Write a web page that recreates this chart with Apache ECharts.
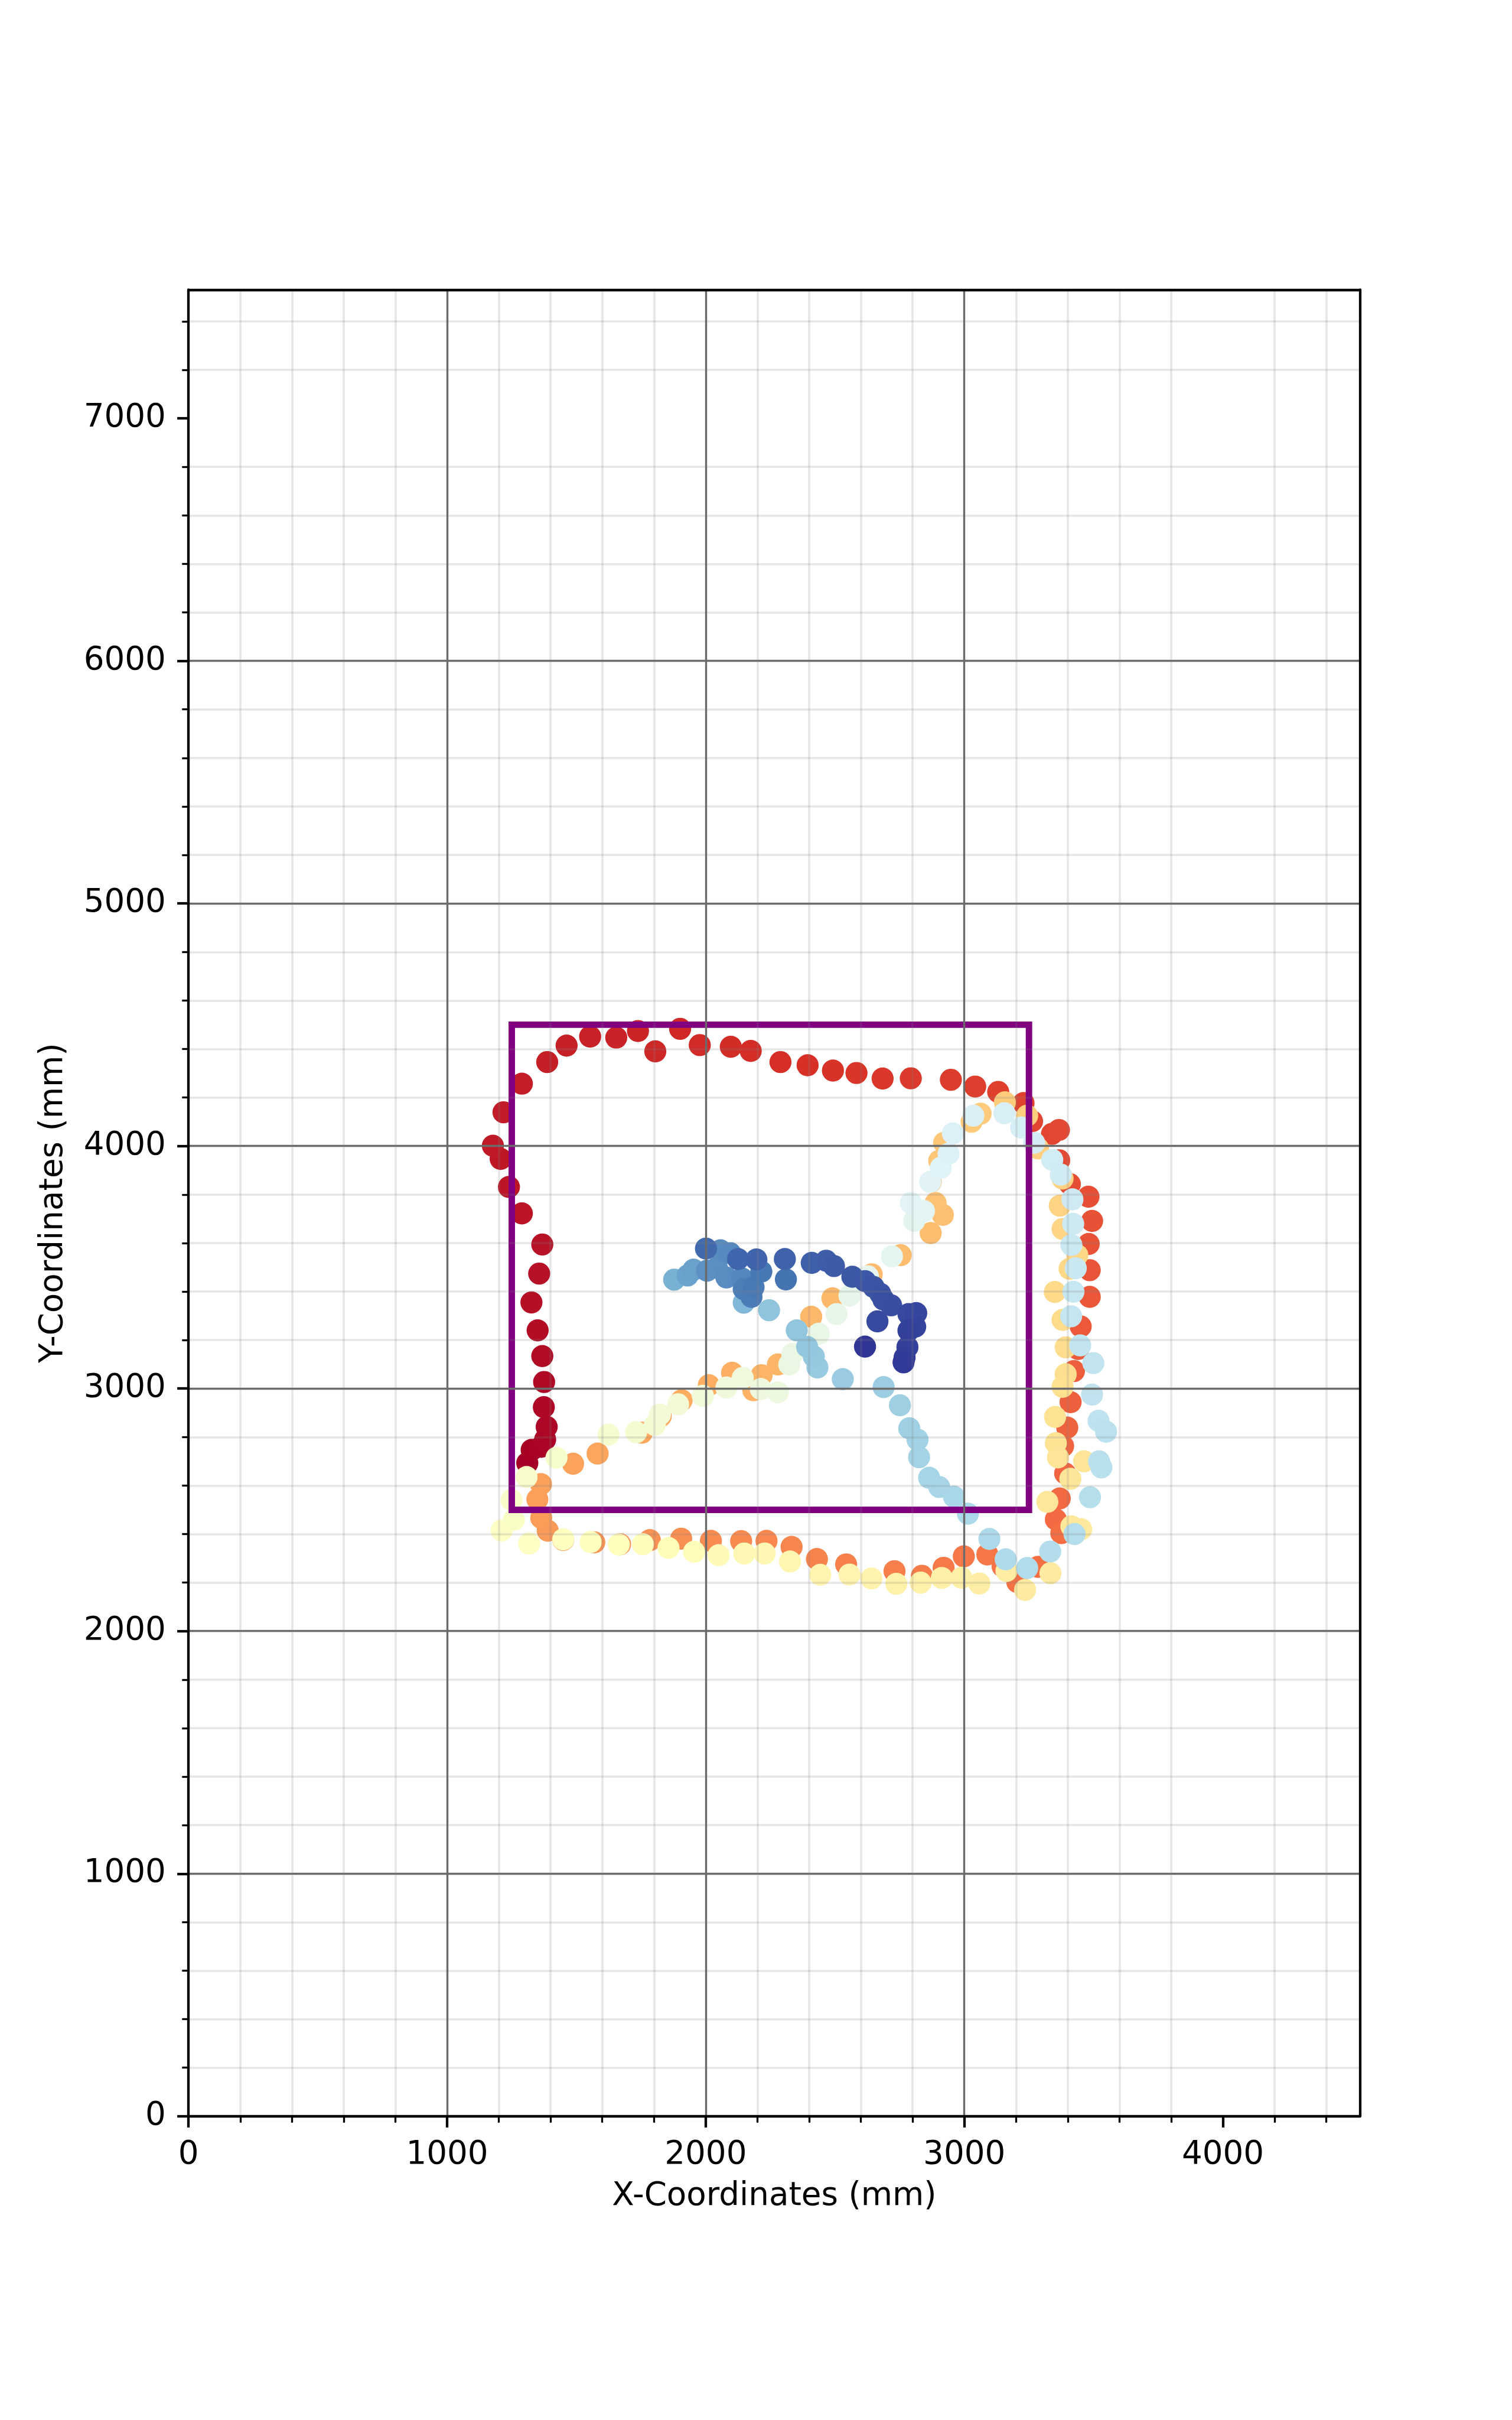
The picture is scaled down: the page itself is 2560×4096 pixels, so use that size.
<!DOCTYPE html>
<html>
<head>
<meta charset="utf-8">
<script src="https://cdn.jsdelivr.net/npm/echarts@6/dist/echarts.min.js"></script>
<style>html,body{margin:0;padding:0;background:#fff}#chart{width:2560px;height:4096px}</style>
</head>
<body>
<div id="chart"></div>
<script>
// ---- Trajectory data (mm), in time order ----
// loop 1 (red): start bottom-left, up the left side, along the top, down the right, back along the bottom
const loop1X = [1310,1327,1364,1379,1385,1374,1375,1368,1350,1326,
                1356,1368,1289,1239,1207,1177,1218,1289,1387,1462,
                1553,1654,1738,1805,1901,1977,2097,2174,2289,2394,
                2492,2583,2684,2793,2948,3042,3131,3229,3262,3339,
                3366,3367,3408,3480,3494,3481,3485,3485,3450,3440,
                3424,3411,3398,3382,3390,3369,3354,3375,3285,3205,
                3148,3089,2998,2920,2836,2730,2543,2430,2332,2235,
                2137,2020,1905,1784,1669,1569,1449,1389,1364,1349,1363];
const loop1Y = [2693,2747,2760,2790,2842,2923,3027,3134,3240,3355,
                3474,3594,3722,3831,3947,4001,4139,4257,4346,4414,
                4451,4447,4474,4390,4483,4416,4409,4392,4346,4333,
                4311,4301,4278,4279,4273,4245,4223,4177,4102,4050,
                4066,3941,3843,3791,3691,3596,3488,3378,3256,3163,
                3072,2944,2839,2763,2650,2547,2460,2404,2265,2202,
                2267,2316,2308,2261,2228,2247,2275,2297,2347,2372,
                2371,2372,2381,2375,2358,2366,2376,2414,2467,2543,2606];
// loop 2 (orange/yellow): diagonal up, right side down, bottom row back left
const loop2X = [1487,1582,1753,1826,1907,2012,2102,2184,2216,2279,
                2408,2490,2642,2754,2870,2917,2889,2870,2903,2922,
                3028,3063,3157,3243,3285,3380,3369,3380,3437,3407,
                3350,3380,3392,3392,3380,3351,3354,3362,3463,3410,
                3321,3414,3452,3333,3235,3163,3058,2989,2913,2831,
                2737,2641,2556,2443,2326,2228,2149,2050,1955,1856,
                1757,1664,1555,1449,1317,1211,1258,1249,1307,1423];
const loop2Y = [2690,2732,2818,2886,2952,3014,3065,2993,3055,3099,
                3296,3372,3471,3550,3641,3716,3765,3852,3939,4013,
                4100,4133,4180,4125,3990,3866,3754,3658,3550,3494,
                3398,3283,3170,3059,3007,2883,2775,2716,2700,2628,
                2533,2432,2420,2239,2170,2248,2196,2220,2219,2200,
                2195,2217,2233,2232,2287,2320,2320,2313,2327,2343,
                2358,2357,2367,2378,2361,2415,2459,2541,2635,2715];
// loop 3 (pale green / light blue): diagonal up, right side down, back up-left to the centre
const loop3X = [1624,1731,1803,1823,1893,1989,2080,2143,2213,2279,
                2323,2335,2437,2506,2556,2627,2720,2806,2844,2793,
                2868,2909,2939,2956,3035,3155,3220,3270,3340,3373,
                3418,3421,3414,3431,3422,3413,3448,3499,3494,3519,
                3548,3521,3530,3486,3426,3332,3243,3160,3097,3014,
                2960,2903,2864,2825,2819,2787,2751,2688,2530,2432,
                2418,2392,2352,2245];
const loop3Y = [2810,2820,2850,2893,2935,2970,3004,3044,2998,2984,
                3099,3143,3226,3307,3383,3463,3545,3691,3732,3765,
                3852,3910,3968,4052,4125,4135,4076,4013,3943,3882,
                3780,3679,3592,3496,3399,3298,3178,3105,2975,2867,
                2822,2700,2675,2552,2400,2328,2260,2296,2380,2484,
                2554,2594,2632,2717,2789,2836,2931,3006,3039,3087,
                3132,3172,3240,3323];
// tail (blue): central cluster and final dark-blue stretch
const tailX = [2147,1878,1930,1953,2005,2043,2080,2057,2095,2140,
               2147,2177,2185,2215,2310,2001,2125,2196,2306,2410,
               2466,2496,2567,2616,2649,2675,2687,2717,2664,2784,
               2814,2810,2784,2780,2769,2765,2616];
const tailY = [3354,3449,3466,3490,3486,3498,3458,3570,3558,3454,
               3410,3378,3418,3482,3450,3577,3534,3532,3534,3518,
               3527,3505,3461,3443,3419,3391,3367,3343,3277,3307,
               3311,3255,3239,3171,3128,3108,3173];
const tailSteps = [222,226,234,235,243,244,245,246,247,248,
                   253,254,255,256,258,263,264,265,266,267,
                   268,269,270,271,272,273,274,275,277,278,
                   279,280,281,282,283,284,286];
const lastStep = 286;

// region of interest rectangle (mm)
const roiX = [1250, 3250, 3250, 1250, 1250];
const roiY = [2500, 2500, 4500, 4500, 2500];

// axes
const xMin = 0, xMax = 4530, yMin = 0, yMax = 7530;
const xTicks = [0, 1000, 2000, 3000, 4000];
const yTicks = [0, 1000, 2000, 3000, 4000, 5000, 6000, 7000];
const xTitle = 'X-Coordinates (mm)';
const yTitle = 'Y-Coordinates (mm)';

// RdYlBu colormap stops
const rdylbu = ['#a50026','#d73027','#f46d43','#fdae61','#fee090','#ffffbf',
                '#e0f3f8','#abd9e9','#74add1','#4575b4','#313695'];

// ---- build series data ----
const pts = [];
let step = 0;
[[loop1X, loop1Y], [loop2X, loop2Y], [loop3X, loop3Y]].forEach(([xs, ys]) => {
  for (let i = 0; i < xs.length; i++) { pts.push([xs[i], ys[i], step]); step++; }
});
for (let i = 0; i < tailX.length; i++) pts.push([tailX[i], tailY[i], tailSteps[i]]);
const roi = roiX.map((x, i) => [x, roiY[i]]);

const S = 0.984;
const FONT = 'DejaVu Sans';
const FS = 55.6 * S;

const chart = echarts.init(document.getElementById('chart'), null, {renderer: 'canvas'});

function mainAxis(isX) {
  const ticks = isX ? xTicks : yTicks;
  return {
    type: 'value',
    min: isX ? xMin : yMin,
    max: isX ? xMax : yMax,
    interval: 1000,
    position: isX ? 'bottom' : 'left',
    z: 5,
    axisLine: {show: true, onZero: false, lineStyle: {color: '#000', width: 4.3}},
    axisTick: {show: true, inside: false, length: 19.1, customValues: ticks,
               lineStyle: {color: '#000', width: 4.3}},
    minorTick: {show: true, splitNumber: 5, length: 10.9, lineStyle: {color: '#000', width: 3.3}},
    axisLabel: {show: true, margin: 38.3, fontSize: FS, fontFamily: FONT, color: '#000',
                customValues: ticks, formatter: v => String(v)},
    splitLine: {show: true, showMinLine: false, showMaxLine: false,
                lineStyle: {color: '#6b6b6b', width: 3.4}},
    minorSplitLine: {show: true, lineStyle: {color: 'rgba(128,128,128,0.2)', width: 3.6}},
    name: isX ? xTitle : yTitle,
    nameLocation: 'middle',
    nameGap: isX ? 136 : 228,
    nameTextStyle: {fontSize: FS, fontFamily: FONT, color: '#000', verticalAlign: 'middle'}
  };
}
function frameAxis(isX) {
  return {
    type: 'value',
    min: isX ? xMin : yMin,
    max: isX ? xMax : yMax,
    position: isX ? 'top' : 'right',
    z: 6,
    axisLine: {show: true, onZero: false, lineStyle: {color: '#000', width: 4.3}},
    axisTick: {show: false}, axisLabel: {show: false},
    splitLine: {show: false}, minorTick: {show: false}, minorSplitLine: {show: false}
  };
}

chart.setOption({
  animation: false,
  backgroundColor: '#fff',
  grid: {left: 319.2, right: 257.4, top: 490.5, bottom: 514.2,
         containLabel: false, outerBoundsMode: 'none', show: false},
  visualMap: {type: 'continuous', show: false, seriesIndex: 0, dimension: 2,
              min: 0, max: lastStep, inRange: {color: rdylbu}},
  xAxis: [mainAxis(true), frameAxis(true)],
  yAxis: [mainAxis(false), frameAxis(false)],
  series: [
    {type: 'scatter', data: pts, symbol: 'circle', symbolSize: 37.4, z: 2, silent: true,
     itemStyle: {opacity: 1}, xAxisIndex: 0, yAxisIndex: 0},
    {type: 'line', data: roi, symbol: 'none', z: 3, silent: true, xAxisIndex: 0, yAxisIndex: 0,
     lineStyle: {color: '#800080', width: 10.9, cap: 'square', join: 'miter'}}
  ]
});
</script>
</body>
</html>
